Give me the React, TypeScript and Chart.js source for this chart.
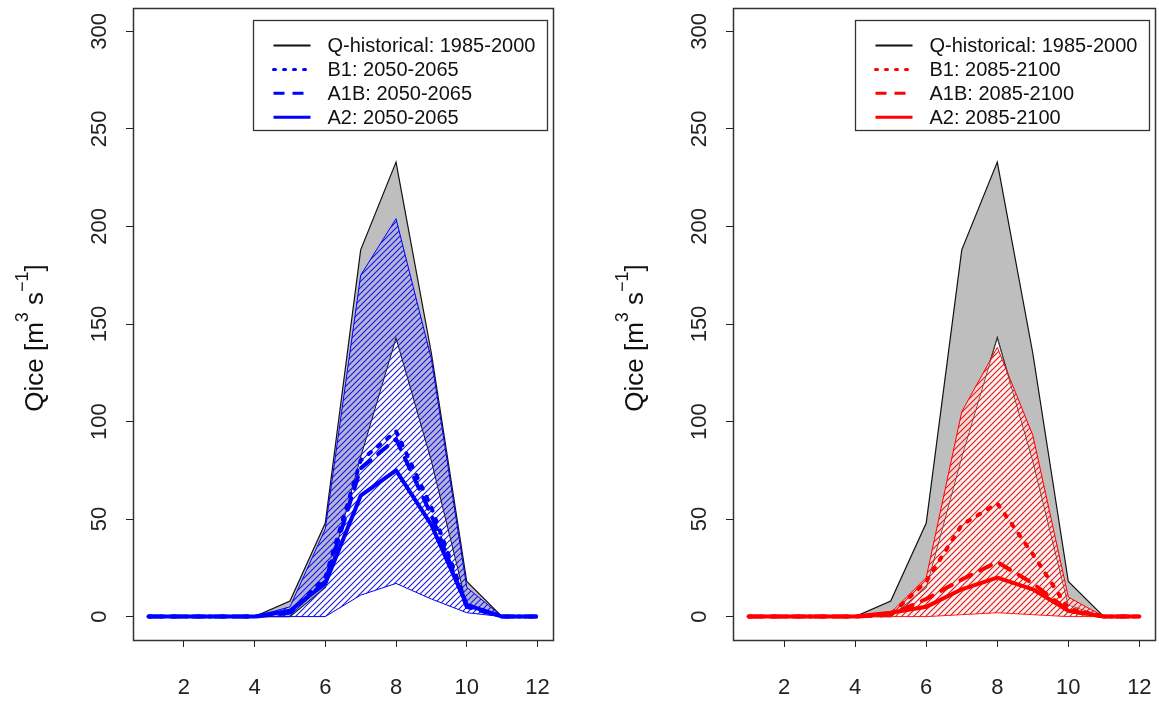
import React, { useEffect, useRef } from "react";
import { Chart, registerables } from "chart.js";

Chart.register(...registerables);

// ---------- data ----------
const months = [1, 2, 3, 4, 5, 6, 7, 8, 9, 10, 11, 12];
const xTickValues = [2, 4, 6, 8, 10, 12];
const yTickValues = [0, 50, 100, 150, 200, 250, 300];

const histMax = [0, 0, 0, 0, 8, 48, 188, 233, 135, 18, 0, 0];
const histMin = [0, 0, 0, 0, 0, 15, 82, 143, 80, 6, 0, 0];

const midUpper = [0, 0, 0, 0, 5, 45, 175, 204, 132, 15, 0, 0];
const midLower = [0, 0, 0, 0, 0, 0, 11, 17, 9, 2, 0, 0];
const midB1 = [0, 0, 0, 0, 2, 20, 80, 95, 56, 6, 0, 0];
const midA1B = [0, 0, 0, 0, 2, 18, 76, 91, 52, 5, 0, 0];
const midA2 = [0, 0, 0, 0, 3, 17, 62, 75, 47, 6, 0, 0];

const lateUpper = [0, 0, 0, 0, 2, 20, 105, 138, 93, 10, 0, 0];
const lateLower = [0, 0, 0, 0, 0, 0, 1, 2, 1, 0, 0, 0];
const lateB1 = [0, 0, 0, 0, 1, 18, 47, 58, 32, 4, 0, 0];
const lateA1B = [0, 0, 0, 0, 1, 9, 19, 28, 17, 3, 0, 0];
const lateA2 = [0, 0, 0, 0, 2, 5, 14, 20, 14, 3, 0, 0];

const histLabel = "Q-historical: 1985-2000";
const midLabels = ["B1: 2050-2065", "A1B: 2050-2065", "A2: 2050-2065"];
const lateLabels = ["B1: 2085-2100", "A1B: 2085-2100", "A2: 2085-2100"];

const FONT = '"Liberation Sans", Arial, Helvetica, sans-serif';

function pts(arr: number[]) {
  return months.map((m, i) => ({ x: m, y: arr[i] }));
}

function makeHatch(ctx: CanvasRenderingContext2D, lineColor: string, bg: string) {
  const s = 6;
  const c = document.createElement("canvas");
  c.width = s;
  c.height = s;
  const g = c.getContext("2d")!;
  g.fillStyle = bg;
  g.fillRect(0, 0, s, s);
  g.strokeStyle = lineColor;
  g.lineWidth = 1.1;
  g.beginPath();
  g.moveTo(-1, s + 1);
  g.lineTo(s + 1, -1);
  g.moveTo(-1, 1);
  g.lineTo(1, -1);
  g.moveTo(s - 1, s + 1);
  g.lineTo(s + 1, s - 1);
  g.stroke();
  return ctx.createPattern(c, "repeat")!;
}

const boxPlugin = {
  id: "rBox",
  afterDraw(chart: any) {
    const { ctx, chartArea } = chart;
    ctx.save();
    ctx.strokeStyle = "#333";
    ctx.lineWidth = 1.5;
    ctx.strokeRect(
      Math.round(chartArea.left) + 0.5,
      Math.round(chartArea.top) + 0.5,
      Math.round(chartArea.right - chartArea.left),
      Math.round(chartArea.bottom - chartArea.top)
    );
    ctx.restore();
  },
};

const legendPlugin = {
  id: "rLegend",
  afterDraw(chart: any, _args: any, opts: any) {
    const { ctx, chartArea } = chart;
    const w = 294;
    const h = 110;
    const x0 = Math.round(chartArea.right - 6 - w) + 0.5;
    const y0 = Math.round(chartArea.top + 12) + 0.5;
    ctx.save();
    ctx.fillStyle = "#fff";
    ctx.fillRect(x0, y0, w, h);
    ctx.strokeStyle = "#333";
    ctx.lineWidth = 1.3;
    ctx.strokeRect(x0, y0, w, h);
    (opts.items || []).forEach((it: any, i: number) => {
      const y = y0 + 25 + i * 23.9;
      ctx.beginPath();
      ctx.setLineDash(it.dash || []);
      ctx.lineCap = it.cap || "butt";
      ctx.strokeStyle = it.color;
      ctx.lineWidth = it.width;
      ctx.moveTo(x0 + 20, y);
      ctx.lineTo(x0 + 57, y);
      ctx.stroke();
      ctx.setLineDash([]);
      ctx.fillStyle = "#111";
      ctx.font = `20px ${FONT}`;
      ctx.textBaseline = "middle";
      ctx.textAlign = "left";
      ctx.fillText(it.label, x0 + 74, y + 1);
    });
    ctx.restore();
  },
};

const yTitlePlugin = {
  id: "rYTitle",
  afterDraw(chart: any) {
    const { ctx } = chart;
    const parts: { t: string; sup: boolean; w?: number }[] = [
      { t: "Qice [m", sup: false },
      { t: "3", sup: true },
      { t: " s", sup: false },
      { t: "\u22121", sup: true },
      { t: "]", sup: false },
    ];
    const mainF = `26px ${FONT}`;
    const supF = `18px ${FONT}`;
    ctx.save();
    let total = 0;
    parts.forEach((p) => {
      ctx.font = p.sup ? supF : mainF;
      p.w = ctx.measureText(p.t).width;
      total += p.w;
    });
    ctx.translate(43, 338);
    ctx.rotate(-Math.PI / 2);
    ctx.fillStyle = "#111";
    ctx.textBaseline = "alphabetic";
    ctx.textAlign = "left";
    let x = -total / 2;
    parts.forEach((p) => {
      ctx.font = p.sup ? supF : mainF;
      ctx.fillText(p.t, x, p.sup ? -15 : 0);
      x += p.w || 0;
    });
    ctx.restore();
  },
};

interface PanelSpec {
  upper: number[];
  lower: number[];
  b1: number[];
  a1b: number[];
  a2: number[];
  color: string;
  hatchLine: string;
  hatchBg: string;
  tint: string;
  labels: string[];
  padRight: number;
}

function buildChart(canvas: HTMLCanvasElement, spec: PanelSpec) {
  const ctx = canvas.getContext("2d")!;
  const hatch = makeHatch(ctx, spec.hatchLine, spec.hatchBg);
  const lw = 4;
  const axisCommon = {
    border: { display: false },
    grid: {
      drawOnChartArea: false,
      drawTicks: true,
      tickLength: 7,
      color: "#222",
      lineWidth: 1,
    },
  };
  return new Chart(canvas, {
    type: "line",
    data: {
      datasets: [
        {
          label: spec.labels[2],
          data: pts(spec.a2),
          borderColor: spec.color,
          borderWidth: lw,
          borderJoinStyle: "round",
          fill: false,
          order: 0,
        },
        {
          label: spec.labels[1],
          data: pts(spec.a1b),
          borderColor: spec.color,
          borderWidth: lw,
          borderDash: [12, 10],
          borderCapStyle: "round",
          fill: false,
          order: 1,
        },
        {
          label: spec.labels[0],
          data: pts(spec.b1),
          borderColor: spec.color,
          borderWidth: lw,
          borderDash: [3, 9],
          borderCapStyle: "round",
          fill: false,
          order: 2,
        },
        {
          label: "future max",
          data: pts(spec.upper),
          borderColor: spec.color,
          borderWidth: 1,
          fill: { target: 4, above: hatch, below: hatch },
          order: 3,
        },
        {
          label: "future min",
          data: pts(spec.lower),
          borderColor: spec.color,
          borderWidth: 1,
          fill: false,
          order: 4,
        },
        {
          label: "future tint",
          data: pts(spec.upper),
          borderColor: "rgba(0,0,0,0)",
          borderWidth: 0,
          fill: { target: 7, above: spec.tint, below: "rgba(0,0,0,0)" },
          order: 5,
        },
        {
          label: "hist max",
          data: pts(histMax),
          borderColor: "#111",
          borderWidth: 1.2,
          fill: { target: 7, above: "#bebebe", below: "#bebebe" },
          order: 7,
        },
        {
          label: "hist min",
          data: pts(histMin),
          borderColor: "#111",
          borderWidth: 1.2,
          fill: false,
          order: 6,
        },
      ],
    } as any,
    options: {
      animation: false,
      responsive: false,
      devicePixelRatio: 1,
      layout: { padding: { left: 0, top: 8, right: spec.padRight, bottom: 0 } },
      elements: { point: { radius: 0, hoverRadius: 0 }, line: { tension: 0 } },
      plugins: {
        legend: { display: false },
        tooltip: { enabled: false },
        rLegend: {
          items: [
            { label: histLabel, color: "#111", width: 2 },
            { label: spec.labels[0], color: spec.color, width: 3, dash: [2, 8], cap: "round" },
            { label: spec.labels[1], color: spec.color, width: 3, dash: [11, 8], cap: "butt" },
            { label: spec.labels[2], color: spec.color, width: 3 },
          ],
        },
      } as any,
      scales: {
        x: {
          type: "linear",
          min: 0.56,
          max: 12.44,
          ...axisCommon,
          afterBuildTicks: (s: any) => {
            s.ticks = xTickValues.map((v) => ({ value: v }));
          },
          afterFit: (s: any) => {
            s.height = 63;
            s.paddingLeft = 0;
            s.paddingRight = 0;
          },
          ticks: {
            autoSkip: false,
            minRotation: 0,
            maxRotation: 0,
            padding: 28,
            color: "#222",
            font: { family: FONT, size: 22 },
            callback: (v: any) => String(v),
          },
        },
        y: {
          type: "linear",
          min: -12,
          max: 312,
          ...axisCommon,
          afterBuildTicks: (s: any) => {
            s.ticks = yTickValues.map((v) => ({ value: v }));
          },
          afterFit: (s: any) => {
            s.width = 133;
            s.paddingTop = 0;
            s.paddingBottom = 0;
          },
          ticks: {
            autoSkip: false,
            minRotation: 90,
            maxRotation: 90,
            crossAlign: "center",
            padding: 8,
            color: "#222",
            font: { family: FONT, size: 22 },
            callback: (v: any) => String(v),
          },
        },
      } as any,
    },
    plugins: [boxPlugin, legendPlugin, yTitlePlugin],
  } as any);
}

export default function App() {
  const leftRef = useRef<HTMLCanvasElement | null>(null);
  const rightRef = useRef<HTMLCanvasElement | null>(null);

  useEffect(() => {
    const charts: Chart[] = [];
    if (leftRef.current) {
      charts.push(
        buildChart(leftRef.current, {
          upper: midUpper,
          lower: midLower,
          b1: midB1,
          a1b: midA1B,
          a2: midA2,
          color: "#0000ff",
          hatchLine: "#1a1ad0",
          hatchBg: "rgba(0,0,0,0)",
          tint: "rgba(170,170,245,0.55)",
          labels: midLabels,
          padRight: 27,
        })
      );
    }
    if (rightRef.current) {
      charts.push(
        buildChart(rightRef.current, {
          upper: lateUpper,
          lower: lateLower,
          b1: lateB1,
          a1b: lateA1B,
          a2: lateA2,
          color: "#ff0000",
          hatchLine: "#d41a1a",
          hatchBg: "rgba(255,205,205,0.3)",
          tint: "rgba(252,222,222,0.85)",
          labels: lateLabels,
          padRight: 4,
        })
      );
    }
    return () => charts.forEach((c) => c.destroy());
  }, []);

  return (
    <div
      style={{
        position: "fixed",
        left: 0,
        top: 0,
        width: 1159,
        height: 703,
        background: "#fff",
        overflow: "hidden",
      }}
    >
      <canvas
        ref={leftRef}
        width={580}
        height={703}
        style={{ position: "absolute", left: 0, top: 0, width: 580, height: 703 }}
      />
      <canvas
        ref={rightRef}
        width={559}
        height={703}
        style={{ position: "absolute", left: 600, top: 0, width: 559, height: 703 }}
      />
    </div>
  );
}
